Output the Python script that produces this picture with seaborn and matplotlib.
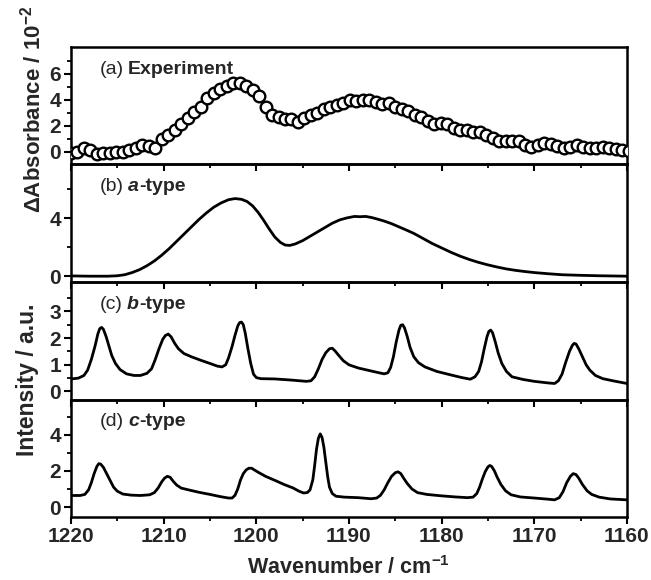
import numpy as np
import pandas as pd
import matplotlib
matplotlib.use("Agg")
import matplotlib.pyplot as plt
import seaborn as sns
from matplotlib.ticker import FixedLocator

# ---------------- data ----------------
wn_exp = [1220.0, 1219.3, 1218.6, 1217.9, 1217.2, 1216.5, 1215.8, 1215.1, 1214.4, 1213.7,
          1213.0, 1212.3, 1211.6, 1210.9, 1210.2, 1209.5, 1208.8, 1208.1, 1207.4, 1206.7,
          1206.0, 1205.3, 1204.6, 1203.9, 1203.2, 1202.5, 1201.8, 1201.1, 1200.4, 1199.7,
          1199.0, 1198.3, 1197.6, 1196.9, 1196.2, 1195.5, 1194.8, 1194.1, 1193.4, 1192.7,
          1192.0, 1191.3, 1190.6, 1189.9, 1189.2, 1188.5, 1187.8, 1187.1, 1186.4, 1185.7,
          1185.0, 1184.3, 1183.6, 1182.9, 1182.2, 1181.5, 1180.8, 1180.1, 1179.4, 1178.7,
          1178.0, 1177.3, 1176.6, 1175.9, 1175.2, 1174.5, 1173.8, 1173.1, 1172.4, 1171.7,
          1171.0, 1170.3, 1169.6, 1168.9, 1168.2, 1167.5, 1166.8, 1166.1, 1165.4, 1164.7,
          1164.0, 1163.3, 1162.6, 1161.9, 1161.2, 1160.5, 1159.8]
experiment = [-0.1, 0.0, 0.25, 0.1, -0.2, -0.1, -0.1, 0.0, -0.05, 0.15,
              0.3, 0.55, 0.45, 0.25, 0.95, 1.3, 1.7, 2.1, 2.6, 3.05,
              3.4, 4.1, 4.55, 4.85, 5.05, 5.25, 5.3, 5.05, 4.75, 4.3,
              3.4, 2.8, 2.7, 2.55, 2.5, 2.3, 2.6, 2.8, 2.95, 3.25,
              3.45, 3.6, 3.75, 3.95, 3.9, 4.0, 3.95, 3.85, 3.7, 3.75,
              3.45, 3.3, 3.15, 2.8, 2.65, 2.4, 2.15, 2.2, 2.1, 1.85,
              1.7, 1.65, 1.55, 1.5, 1.3, 1.05, 0.85, 0.8, 0.85, 0.8,
              0.5, 0.4, 0.55, 0.65, 0.6, 0.45, 0.3, 0.4, 0.5, 0.4,
              0.25, 0.3, 0.4, 0.3, 0.2, 0.1, 0.05]

# (wavenumber, value) pairs
a_type_pts = [
    (1220.0, 0.02), (1218.0, 0.0), (1216.0, 0.0), (1215.0, 0.03), (1214.2, 0.1),
    (1213.4, 0.25), (1212.6, 0.45), (1211.8, 0.72), (1211.0, 1.05), (1210.2, 1.45),
    (1209.4, 1.9), (1208.6, 2.4), (1207.8, 2.9), (1207.0, 3.4), (1206.2, 3.9),
    (1205.4, 4.35), (1204.6, 4.75), (1203.8, 5.05), (1203.0, 5.27), (1202.3, 5.35),
    (1201.6, 5.3), (1201.0, 5.15), (1200.4, 4.85), (1199.8, 4.4), (1199.2, 3.85),
    (1198.6, 3.25), (1198.0, 2.7), (1197.4, 2.33), (1196.9, 2.15), (1196.4, 2.12),
    (1195.8, 2.22), (1195.0, 2.45), (1194.2, 2.75), (1193.4, 3.05), (1192.6, 3.35),
    (1191.8, 3.65), (1191.0, 3.88), (1190.2, 4.02), (1189.4, 4.12), (1188.8, 4.1),
    (1188.2, 4.12), (1187.6, 4.05), (1187.0, 3.95), (1186.2, 3.8), (1185.4, 3.62),
    (1184.6, 3.4), (1183.8, 3.18), (1183.0, 2.95), (1182.0, 2.6), (1181.0, 2.25),
    (1180.0, 1.95), (1179.0, 1.65), (1178.0, 1.38), (1177.0, 1.15), (1176.0, 0.95),
    (1175.0, 0.78), (1174.0, 0.63), (1173.0, 0.5), (1172.0, 0.4), (1171.0, 0.32),
    (1170.0, 0.25), (1168.5, 0.17), (1167.0, 0.1), (1165.0, 0.06), (1163.0, 0.03),
    (1160.0, 0.0)]

b_type_pts = [
    (1220.0, 0.47), (1219.2, 0.5), (1218.6, 0.6), (1218.2, 0.8), (1217.8, 1.2),
    (1217.4, 1.7), (1217.1, 2.15), (1216.9, 2.35), (1216.7, 2.4), (1216.5, 2.33),
    (1216.2, 2.05), (1215.9, 1.7), (1215.6, 1.35), (1215.2, 1.05), (1214.7, 0.82),
    (1214.0, 0.66), (1213.2, 0.6), (1212.5, 0.6), (1211.8, 0.68), (1211.3, 0.85),
    (1210.9, 1.2), (1210.5, 1.6), (1210.1, 1.95), (1209.8, 2.1), (1209.5, 2.15),
    (1209.2, 2.05), (1208.8, 1.8), (1208.4, 1.6), (1207.8, 1.42), (1207.0, 1.3),
    (1206.0, 1.17), (1205.0, 1.05), (1204.2, 0.95), (1203.7, 0.92), (1203.3, 1.0),
    (1203.0, 1.25), (1202.6, 1.7), (1202.3, 2.1), (1202.0, 2.45), (1201.8, 2.58),
    (1201.6, 2.6), (1201.4, 2.5), (1201.2, 2.2), (1200.9, 1.6), (1200.6, 1.05),
    (1200.3, 0.65), (1200.0, 0.52), (1199.5, 0.48), (1198.0, 0.47), (1196.3, 0.43),
    (1194.6, 0.38), (1194.1, 0.4), (1193.7, 0.55), (1193.3, 0.85), (1192.9, 1.2),
    (1192.5, 1.45), (1192.1, 1.6), (1191.8, 1.62), (1191.5, 1.52), (1191.1, 1.35),
    (1190.6, 1.15), (1190.0, 1.0), (1189.0, 0.88), (1188.0, 0.8), (1187.0, 0.72),
    (1186.2, 0.66), (1185.8, 0.7), (1185.5, 0.9), (1185.2, 1.3), (1184.9, 1.85),
    (1184.6, 2.3), (1184.4, 2.48), (1184.2, 2.5), (1184.0, 2.38), (1183.7, 2.05),
    (1183.4, 1.65), (1183.0, 1.3), (1182.5, 1.08), (1181.8, 0.92), (1180.5, 0.75),
    (1179.0, 0.62), (1177.8, 0.52), (1176.9, 0.46), (1176.4, 0.55), (1176.0, 0.75),
    (1175.7, 1.1), (1175.4, 1.6), (1175.1, 2.05), (1174.9, 2.25), (1174.7, 2.3),
    (1174.5, 2.2), (1174.2, 1.85), (1173.9, 1.45), (1173.5, 1.05), (1173.0, 0.75),
    (1172.4, 0.55), (1171.2, 0.45), (1170.0, 0.38), (1168.5, 0.32), (1167.8, 0.3),
    (1167.4, 0.4), (1167.0, 0.65), (1166.6, 1.1), (1166.2, 1.5), (1165.9, 1.72),
    (1165.7, 1.8), (1165.5, 1.78), (1165.2, 1.6), (1164.8, 1.3), (1164.4, 1.0),
    (1164.0, 0.8), (1163.4, 0.6), (1162.6, 0.48), (1161.5, 0.4), (1160.0, 0.3)]

c_type_pts = [
    (1220.0, 0.64), (1219.0, 0.64), (1218.5, 0.7), (1218.1, 0.95), (1217.8, 1.35),
    (1217.5, 1.85), (1217.2, 2.25), (1217.0, 2.4), (1216.8, 2.38), (1216.5, 2.2),
    (1216.2, 1.9), (1215.8, 1.5), (1215.4, 1.1), (1215.0, 0.88), (1214.4, 0.72),
    (1213.5, 0.66), (1212.5, 0.64), (1211.5, 0.68), (1211.0, 0.8), (1210.6, 1.05),
    (1210.2, 1.4), (1209.9, 1.6), (1209.6, 1.7), (1209.3, 1.65), (1209.0, 1.45),
    (1208.6, 1.22), (1208.1, 1.05), (1207.3, 0.95), (1206.2, 0.82), (1205.0, 0.7),
    (1203.9, 0.58), (1203.0, 0.5), (1202.6, 0.5), (1202.3, 0.65), (1202.0, 1.0),
    (1201.7, 1.5), (1201.4, 1.85), (1201.1, 2.05), (1200.8, 2.15), (1200.5, 2.15),
    (1200.2, 2.05), (1199.7, 1.9), (1199.0, 1.7), (1198.0, 1.48), (1197.0, 1.25),
    (1196.0, 1.05), (1195.4, 0.88), (1194.9, 0.78), (1194.5, 0.8), (1194.2, 0.95),
    (1193.9, 1.5), (1193.7, 2.3), (1193.5, 3.2), (1193.3, 3.8), (1193.1, 4.05),
    (1192.9, 3.85), (1192.7, 3.3), (1192.5, 2.5), (1192.3, 1.7), (1192.1, 1.1),
    (1191.8, 0.75), (1191.4, 0.6), (1190.5, 0.55), (1189.0, 0.52), (1187.6, 0.46),
    (1187.0, 0.5), (1186.6, 0.65), (1186.2, 0.95), (1185.8, 1.35), (1185.4, 1.7),
    (1185.0, 1.9), (1184.7, 1.95), (1184.4, 1.85), (1184.1, 1.6), (1183.7, 1.3),
    (1183.2, 1.0), (1182.6, 0.8), (1181.6, 0.7), (1180.0, 0.62), (1178.5, 0.56),
    (1177.2, 0.52), (1176.6, 0.55), (1176.2, 0.75), (1175.9, 1.1), (1175.6, 1.55),
    (1175.3, 1.95), (1175.0, 2.22), (1174.8, 2.3), (1174.6, 2.25), (1174.3, 2.0),
    (1174.0, 1.65), (1173.6, 1.25), (1173.1, 0.9), (1172.5, 0.68), (1171.5, 0.56),
    (1170.0, 0.5), (1168.6, 0.44), (1167.8, 0.4), (1167.3, 0.52), (1166.9, 0.85),
    (1166.5, 1.35), (1166.1, 1.7), (1165.8, 1.85), (1165.5, 1.8), (1165.2, 1.6),
    (1164.8, 1.25), (1164.3, 0.9), (1163.8, 0.7), (1163.0, 0.55), (1161.8, 0.45),
    (1160.0, 0.4)]

panel_prefix = ["(a)", "(b)", "(c)", "(d)"]
panel_names = [[("Experiment", "bold", "normal")],
               [("a", "bold", "italic"), ("-type", "bold", "normal")],
               [("b", "bold", "italic"), ("-type", "bold", "normal")],
               [("c", "bold", "italic"), ("-type", "bold", "normal")]]
y_label_top = "ΔAbsorbance / 10$^{-2}$"
y_label_bottom = "Intensity / a.u."
x_label = "Wavenumber / cm$^{-1}$"
x_ticks = [1220, 1210, 1200, 1190, 1180, 1170, 1160]
x_minor = [1215, 1205, 1195, 1185, 1175, 1165]
y_major = [[0, 2, 4, 6], [0, 4], [0, 1, 2, 3], [0, 2, 4]]
y_minor = [[1, 3, 5, 7], [2, 6], [0.5, 1.5, 2.5, 3.5], [1, 3, 5]]
y_limits = [(-0.98, 8.05), (-0.4, 7.7), (-0.3, 4.1), (-0.55, 5.95)]

# ---------------- style ----------------
sns.set_theme(style="ticks")
FAM = ["Liberation Sans", "DejaVu Sans"]
plt.rcParams["font.family"] = FAM
plt.rcParams["mathtext.fontset"] = "custom"
plt.rcParams["mathtext.rm"] = "Liberation Sans:bold"
plt.rcParams["mathtext.bf"] = "Liberation Sans:bold"
plt.rcParams["mathtext.default"] = "bf"

fig = plt.figure(figsize=(6.51, 5.80), dpi=100)
fig.patch.set_facecolor("white")
gs = fig.add_gridspec(4, 1, left=0.109, right=0.963, bottom=0.1086, top=0.919, hspace=0)
axes = [fig.add_subplot(gs[i]) for i in range(4)]

df_exp = pd.DataFrame({"wn": wn_exp, "y": experiment})
wn_a, a_type = zip(*a_type_pts)
wn_b, b_type = zip(*b_type_pts)
wn_c, c_type = zip(*c_type_pts)
df_a = pd.DataFrame({"wn": wn_a, "y": a_type})
df_b = pd.DataFrame({"wn": wn_b, "y": b_type})
df_c = pd.DataFrame({"wn": wn_c, "y": c_type})

sns.scatterplot(data=df_exp, x="wn", y="y", ax=axes[0], s=70, marker="o",
                facecolor="white", edgecolor="black", linewidth=1.7, zorder=3)
for ax, df in zip(axes[1:], [df_a, df_b, df_c]):
    sns.lineplot(data=df, x="wn", y="y", ax=ax, color="black", lw=2.0, sort=False,
                 estimator=None, solid_joinstyle="round", solid_capstyle="round")

TICKFS = 15
for i, ax in enumerate(axes):
    ax.patch.set_alpha(0)
    ax.set_xlim(1220, 1160)
    ax.set_ylim(*y_limits[i])
    ax.set_xlabel("")
    ax.set_ylabel("")
    ax.xaxis.set_major_locator(FixedLocator(x_ticks))
    ax.xaxis.set_minor_locator(FixedLocator(x_minor))
    ax.yaxis.set_major_locator(FixedLocator(y_major[i]))
    ax.yaxis.set_minor_locator(FixedLocator(y_minor[i]))
    for sp in ax.spines.values():
        sp.set_linewidth(1.8)
        sp.set_color("black")
    ax.tick_params(axis="both", which="major", direction="out", length=5, width=1.5,
                   color="black", labelsize=TICKFS, pad=2)
    ax.tick_params(axis="both", which="minor", direction="out", length=3, width=1.3,
                   color="black")
    ax.tick_params(axis="x", which="both", top=False, bottom=True,
                   labelbottom=(i == 3))
    ax.tick_params(axis="y", which="both", left=True, right=False)
    for lab in ax.get_xticklabels() + ax.get_yticklabels():
        lab.set_fontweight("bold")
    ax.set_zorder(10 - i)

# panel labels
LABFS = 14
for ax, pre, parts in zip(axes, panel_prefix, panel_names):
    prev = ax.text(0.052, 0.74, pre, transform=ax.transAxes, fontsize=LABFS,
                   fontweight="normal", va="bottom", ha="left", family=FAM)
    first = True
    for txt, wt, st in parts:
        prev = ax.annotate(txt, xy=(1, 0), xycoords=prev,
                           xytext=((3 if first else 0), 0), textcoords="offset points",
                           fontsize=LABFS, fontweight=wt, fontstyle=st,
                           va="bottom", ha="left", family=FAM)
        first = False

fig.text(0.050, 0.812, y_label_top, rotation=90, ha="center", va="center",
         fontsize=16, fontweight="bold")
fig.text(0.042, 0.345, y_label_bottom, rotation=90, ha="center", va="center",
         fontsize=16.5, fontweight="bold")
fig.text(0.536, 0.021, x_label, ha="center", va="center", fontsize=15.5, fontweight="bold")

fig.savefig("out.png", dpi=100, facecolor="white")
